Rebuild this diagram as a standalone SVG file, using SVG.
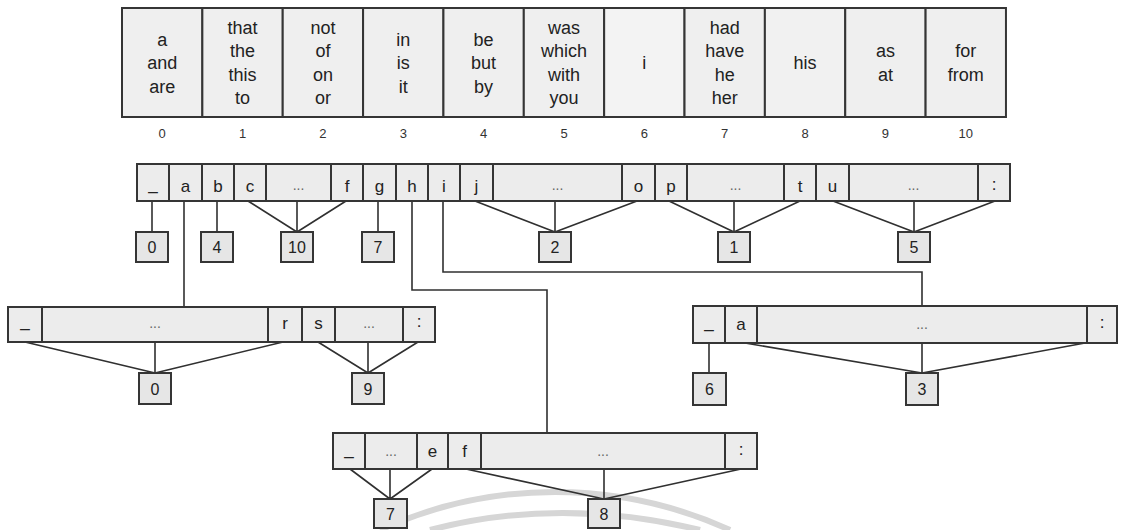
<svg xmlns="http://www.w3.org/2000/svg" width="1122" height="530" viewBox="0 0 1122 530">
  <style>
    text { font-family: "Liberation Sans", Arial, sans-serif; fill: #222; }
    .cell { fill: #ececec; stroke: #353535; stroke-width: 2; }
    .bucket { fill: #efefef; stroke: #353535; stroke-width: 2; }
    .leaf { fill: #e6e6e6; stroke: #353535; stroke-width: 2; }
    .word { font-size: 18px; text-anchor: middle; }
    .idx { font-size: 13px; text-anchor: middle; fill: #333; }
    .key { font-size: 17px; text-anchor: middle; }
    .dots { font-size: 14px; text-anchor: middle; fill: #666; }
    .num { font-size: 16px; text-anchor: middle; }
    .edge { fill: none; stroke: #303030; stroke-width: 1.6; }
    .wm { fill: none; stroke: #d6d6d6; stroke-width: 6; }
  </style>

  <!-- faint background arcs along the bottom edge -->
  <g id="watermark">
    <path class="wm" d="M 380 530 A 422 422 0 0 1 730 530"/>
    <path class="wm" d="M 430 530 Q 560 496 700 530"/>
  </g>

  <!-- hash buckets 0..10 -->
  <g id="buckets">
    <g id="bucket-0">
      <rect class="bucket" x="122" y="8" width="80.36" height="109"/>
      <text class="word" x="162.2" y="45.5">a</text>
      <text class="word" x="162.2" y="69">and</text>
      <text class="word" x="162.2" y="92.5">are</text>
      <text class="idx" x="162.2" y="138">0</text>
    </g>
    <g id="bucket-1">
      <rect class="bucket" x="202.36" y="8" width="80.36" height="109"/>
      <text class="word" x="242.5" y="33.75">that</text>
      <text class="word" x="242.5" y="57.25">the</text>
      <text class="word" x="242.5" y="80.75">this</text>
      <text class="word" x="242.5" y="104.25">to</text>
      <text class="idx" x="242.5" y="138">1</text>
    </g>
    <g id="bucket-2">
      <rect class="bucket" x="282.72" y="8" width="80.36" height="109"/>
      <text class="word" x="322.9" y="33.75">not</text>
      <text class="word" x="322.9" y="57.25">of</text>
      <text class="word" x="322.9" y="80.75">on</text>
      <text class="word" x="322.9" y="104.25">or</text>
      <text class="idx" x="322.9" y="138">2</text>
    </g>
    <g id="bucket-3">
      <rect class="bucket" x="363.08" y="8" width="80.36" height="109"/>
      <text class="word" x="403.3" y="45.5">in</text>
      <text class="word" x="403.3" y="69">is</text>
      <text class="word" x="403.3" y="92.5">it</text>
      <text class="idx" x="403.3" y="138">3</text>
    </g>
    <g id="bucket-4">
      <rect class="bucket" x="443.44" y="8" width="80.36" height="109"/>
      <text class="word" x="483.6" y="45.5">be</text>
      <text class="word" x="483.6" y="69">but</text>
      <text class="word" x="483.6" y="92.5">by</text>
      <text class="idx" x="483.6" y="138">4</text>
    </g>
    <g id="bucket-5">
      <rect class="bucket" x="523.8" y="8" width="80.36" height="109"/>
      <text class="word" x="564" y="33.75">was</text>
      <text class="word" x="564" y="57.25">which</text>
      <text class="word" x="564" y="80.75">with</text>
      <text class="word" x="564" y="104.25">you</text>
      <text class="idx" x="564" y="138">5</text>
    </g>
    <g id="bucket-6">
      <rect class="bucket" x="604.16" y="8" width="80.36" height="109" style="fill:#f3f3f3"/>
      <text class="word" x="644.3" y="69">i</text>
      <text class="idx" x="644.3" y="138">6</text>
    </g>
    <g id="bucket-7">
      <rect class="bucket" x="684.52" y="8" width="80.36" height="109"/>
      <text class="word" x="724.7" y="33.75">had</text>
      <text class="word" x="724.7" y="57.25">have</text>
      <text class="word" x="724.7" y="80.75">he</text>
      <text class="word" x="724.7" y="104.25">her</text>
      <text class="idx" x="724.7" y="138">7</text>
    </g>
    <g id="bucket-8">
      <rect class="bucket" x="764.88" y="8" width="80.36" height="109" style="fill:#f1f1f1"/>
      <text class="word" x="805.1" y="69">his</text>
      <text class="idx" x="805.1" y="138">8</text>
    </g>
    <g id="bucket-9">
      <rect class="bucket" x="845.24" y="8" width="80.36" height="109"/>
      <text class="word" x="885.4" y="57.25">as</text>
      <text class="word" x="885.4" y="80.75">at</text>
      <text class="idx" x="885.4" y="138">9</text>
    </g>
    <g id="bucket-10">
      <rect class="bucket" x="925.6" y="8" width="80.36" height="109"/>
      <text class="word" x="965.8" y="57.25">for</text>
      <text class="word" x="965.8" y="80.75">from</text>
      <text class="idx" x="965.8" y="138">10</text>
    </g>
  </g>

  <!-- connectors -->
  <g id="connectors">
    <!-- root node to its leaves -->
    <path class="edge" d="M 152 201 V 232"/>
    <path class="edge" d="M 217 201 V 232"/>
    <path class="edge" d="M 248 201 L 297 232 M 297 201 V 232 M 346 201 L 297 232"/>
    <path class="edge" d="M 378 201 V 232"/>
    <path class="edge" d="M 475 201 L 555 232 M 555 201 V 232 M 637 201 L 555 232"/>
    <path class="edge" d="M 669 201 L 734 232 M 734 201 V 232 M 800 201 L 734 232"/>
    <path class="edge" d="M 833 201 L 914 232 M 914 201 V 232 M 995 201 L 914 232"/>
    <!-- root node to child nodes -->
    <path class="edge" d="M 184 201 V 307"/>
    <path class="edge" d="M 412 201 V 290 H 547 V 433"/>
    <path class="edge" d="M 443 201 V 272 H 922 V 306"/>
    <!-- node "a" -->
    <path class="edge" d="M 25 342 L 155 373 M 155 342 V 373 M 283 342 L 155 373"/>
    <path class="edge" d="M 318 342 L 368 373 M 368 342 V 373 M 418 342 L 368 373"/>
    <!-- node "i" -->
    <path class="edge" d="M 709 343 V 373"/>
    <path class="edge" d="M 745 343 L 922 373 M 922 343 V 373 M 1085 343 L 922 373"/>
    <!-- node "h" -->
    <path class="edge" d="M 350 469 L 390 499 M 390 469 V 499 M 432 469 L 390 499"/>
    <path class="edge" d="M 466 469 L 604 499 M 604 469 V 499 M 741 469 L 604 499"/>
  </g>

  <!-- root trie node -->
  <g id="node-root">
    <rect class="cell" x="137" y="164" width="32" height="37"/>
    <rect class="cell" x="169" y="164" width="33" height="37"/>
    <rect class="cell" x="202" y="164" width="32" height="37"/>
    <rect class="cell" x="234" y="164" width="32" height="37"/>
    <rect class="cell" x="266" y="164" width="65" height="37"/>
    <rect class="cell" x="331" y="164" width="32" height="37"/>
    <rect class="cell" x="363" y="164" width="33" height="37"/>
    <rect class="cell" x="396" y="164" width="32" height="37"/>
    <rect class="cell" x="428" y="164" width="32" height="37"/>
    <rect class="cell" x="460" y="164" width="33" height="37"/>
    <rect class="cell" x="493" y="164" width="129" height="37"/>
    <rect class="cell" x="622" y="164" width="33" height="37"/>
    <rect class="cell" x="655" y="164" width="32" height="37"/>
    <rect class="cell" x="687" y="164" width="97" height="37"/>
    <rect class="cell" x="784" y="164" width="32" height="37"/>
    <rect class="cell" x="816" y="164" width="33" height="37"/>
    <rect class="cell" x="849" y="164" width="129" height="37"/>
    <rect class="cell" x="978" y="164" width="32" height="37"/>
    <text class="key" x="153" y="190">_</text>
    <text class="key" x="185.5" y="192">a</text>
    <text class="key" x="218" y="192">b</text>
    <text class="key" x="250" y="192">c</text>
    <text class="dots" x="298.5" y="190">...</text>
    <text class="key" x="347" y="192">f</text>
    <text class="key" x="379.5" y="192">g</text>
    <text class="key" x="412" y="192">h</text>
    <text class="key" x="444" y="192">i</text>
    <text class="key" x="476.5" y="192">j</text>
    <text class="dots" x="557.5" y="190">...</text>
    <text class="key" x="638.5" y="192">o</text>
    <text class="key" x="671" y="192">p</text>
    <text class="dots" x="735.5" y="190">...</text>
    <text class="key" x="800" y="192">t</text>
    <text class="key" x="832.5" y="192">u</text>
    <text class="dots" x="913.5" y="190">...</text>
    <text class="key" x="994" y="190">:</text>
  </g>

  <!-- leaves of the root node -->
  <g id="leaf-root-0"><rect class="leaf" x="136" y="232" width="32" height="30"/><text class="num" x="152" y="253">0</text></g>
  <g id="leaf-root-4"><rect class="leaf" x="201" y="232" width="32" height="30"/><text class="num" x="217" y="253">4</text></g>
  <g id="leaf-root-10"><rect class="leaf" x="281" y="232" width="32" height="30"/><text class="num" x="297" y="253">10</text></g>
  <g id="leaf-root-7"><rect class="leaf" x="362" y="232" width="32" height="30"/><text class="num" x="378" y="253">7</text></g>
  <g id="leaf-root-2"><rect class="leaf" x="539" y="232" width="32" height="30"/><text class="num" x="555" y="253">2</text></g>
  <g id="leaf-root-1"><rect class="leaf" x="718" y="232" width="32" height="30"/><text class="num" x="734" y="253">1</text></g>
  <g id="leaf-root-5"><rect class="leaf" x="898" y="232" width="32" height="30"/><text class="num" x="914" y="253">5</text></g>

  <!-- child node under "a" -->
  <g id="node-a">
    <rect class="cell" x="8" y="307" width="34" height="35"/>
    <rect class="cell" x="42" y="307" width="226" height="35"/>
    <rect class="cell" x="268" y="307" width="34" height="35"/>
    <rect class="cell" x="302" y="307" width="33" height="35"/>
    <rect class="cell" x="335" y="307" width="68" height="35"/>
    <rect class="cell" x="403" y="307" width="32" height="35"/>
    <text class="key" x="25" y="327">_</text>
    <text class="dots" x="155" y="328">...</text>
    <text class="key" x="285" y="329">r</text>
    <text class="key" x="318.5" y="329">s</text>
    <text class="dots" x="369" y="328">...</text>
    <text class="key" x="419" y="327">:</text>
  </g>
  <g id="leaf-a-0"><rect class="leaf" x="139" y="373" width="32" height="31"/><text class="num" x="155" y="395">0</text></g>
  <g id="leaf-a-9"><rect class="leaf" x="352" y="373" width="32" height="31"/><text class="num" x="368" y="395">9</text></g>

  <!-- child node under "i" -->
  <g id="node-i">
    <rect class="cell" x="693" y="306" width="32" height="37"/>
    <rect class="cell" x="725" y="306" width="32" height="37"/>
    <rect class="cell" x="757" y="306" width="330" height="37"/>
    <rect class="cell" x="1087" y="306" width="30" height="37"/>
    <text class="key" x="709" y="328">_</text>
    <text class="key" x="741" y="330">a</text>
    <text class="dots" x="922" y="329">...</text>
    <text class="key" x="1102" y="328">:</text>
  </g>
  <g id="leaf-i-6"><rect class="leaf" x="693" y="373" width="33" height="32"/><text class="num" x="709.5" y="395">6</text></g>
  <g id="leaf-i-3"><rect class="leaf" x="906" y="373" width="32" height="32"/><text class="num" x="922" y="395">3</text></g>

  <!-- child node under "h" -->
  <g id="node-h">
    <rect class="cell" x="333" y="433" width="32" height="36"/>
    <rect class="cell" x="365" y="433" width="52" height="36"/>
    <rect class="cell" x="417" y="433" width="31" height="36"/>
    <rect class="cell" x="448" y="433" width="33" height="36"/>
    <rect class="cell" x="481" y="433" width="244" height="36"/>
    <rect class="cell" x="725" y="433" width="32" height="36"/>
    <text class="key" x="349" y="455">_</text>
    <text class="dots" x="391" y="456">...</text>
    <text class="key" x="432.5" y="457">e</text>
    <text class="key" x="464.5" y="457">f</text>
    <text class="dots" x="603" y="456">...</text>
    <text class="key" x="741" y="455">:</text>
  </g>
  <g id="leaf-h-7"><rect class="leaf" x="374" y="499" width="33" height="29"/><text class="num" x="390.5" y="520">7</text></g>
  <g id="leaf-h-8"><rect class="leaf" x="588" y="499" width="32" height="29"/><text class="num" x="604" y="520">8</text></g>
</svg>
